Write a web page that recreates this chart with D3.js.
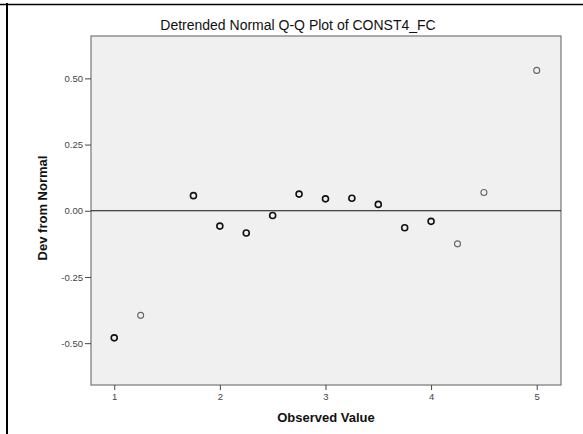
<!DOCTYPE html>
<html>
<head>
<meta charset="utf-8">
<script src="https://cdn.jsdelivr.net/npm/d3@7"></script>
<style>
  body { margin: 0; background: #fff; }
  svg { font-family: "Liberation Sans", Arial, sans-serif; }
</style>
</head>
<body>
<div id="chart"></div>
<script>
// observed values and their deviation from normal
var observed = [1, 1.25, 1.75, 2, 2.25, 2.5, 2.75, 3, 3.25, 3.5, 3.75, 4, 4.25, 4.5, 5];
var deviation = [-0.48, -0.395, 0.057, -0.058, -0.084, -0.018, 0.063, 0.045, 0.047, 0.024, -0.064, -0.04, -0.125, 0.069, 0.53];
// number of cases at each value (many cases draw darker)
var cases = [3, 1, 4, 6, 5, 7, 6, 8, 7, 5, 4, 3, 1, 1, 1];
var xTicks = [1, 2, 3, 4, 5];
var yTicks = [-0.5, -0.25, 0, 0.25, 0.5];

var width = 583, height = 434;
var box = {left: 91, right: 561, top: 36, bottom: 385};

var svg = d3.select("#chart").append("svg").attr("width", width).attr("height", height);

// frame lines of the output table
svg.append("line").attr("x1", 0).attr("x2", width).attr("y1", 4.5).attr("y2", 4.5)
  .attr("stroke", "#000").attr("stroke-width", 1.5);
svg.append("line").attr("x1", 7).attr("x2", 7).attr("y1", 3).attr("y2", height)
  .attr("stroke", "#000").attr("stroke-width", 2);

var x = d3.scaleLinear().domain([0.78, 5.23]).range([box.left, box.right]);
var y = d3.scaleLinear().domain([-0.658, 0.66]).range([box.bottom, box.top]);

svg.append("rect").attr("x", box.left).attr("y", box.top)
  .attr("width", box.right - box.left).attr("height", box.bottom - box.top)
  .attr("fill", "#f0f0f0").attr("stroke", "#777").attr("stroke-width", 1.2);

svg.append("text").attr("x", 298).attr("y", 30).attr("text-anchor", "middle")
  .attr("font-size", 14).attr("fill", "#111").text("Detrended Normal Q-Q Plot of CONST4_FC");

var fmt = d3.format(".2f");
var xAxis = svg.append("g").attr("transform", "translate(0," + box.bottom + ")")
  .call(d3.axisBottom(x).tickValues(xTicks).tickFormat(d3.format("d")).tickSize(5).tickPadding(3));
var yAxis = svg.append("g").attr("transform", "translate(" + box.left + ",0)")
  .call(d3.axisLeft(y).tickValues(yTicks).tickFormat(function(d) { return fmt(d).replace("−", "-"); })
    .tickSize(6).tickPadding(2));
[xAxis, yAxis].forEach(function(a) {
  a.select(".domain").remove();
  a.selectAll("line").attr("stroke", "#444");
  a.selectAll("text").attr("font-size", 9.5).attr("fill", "#444").attr("font-family", "Liberation Sans, Arial, sans-serif");
});

svg.append("text").attr("x", 326).attr("y", 422).attr("text-anchor", "middle")
  .attr("font-size", 13).attr("font-weight", "bold").attr("fill", "#111").text("Observed Value");
svg.append("text").attr("transform", "translate(47,208) rotate(-90)").attr("text-anchor", "middle")
  .attr("font-size", 13).attr("font-weight", "bold").attr("fill", "#111").text("Dev from Normal");

// reference line at zero
svg.append("line").attr("x1", box.left).attr("x2", box.right).attr("y1", y(0)).attr("y2", y(0))
  .attr("stroke", "#111").attr("stroke-width", 1.2);

svg.selectAll("circle.pt").data(observed).enter().append("circle").attr("class", "pt")
  .attr("cx", function(d) { return x(d); })
  .attr("cy", function(d, i) { return y(deviation[i]); })
  .attr("r", 3)
  .attr("fill", "none")
  .attr("stroke", function(d, i) { return cases[i] > 1 ? "#111" : "#666"; })
  .attr("stroke-width", function(d, i) { return cases[i] > 1 ? 1.6 : 1.1; });
</script>
</body>
</html>
